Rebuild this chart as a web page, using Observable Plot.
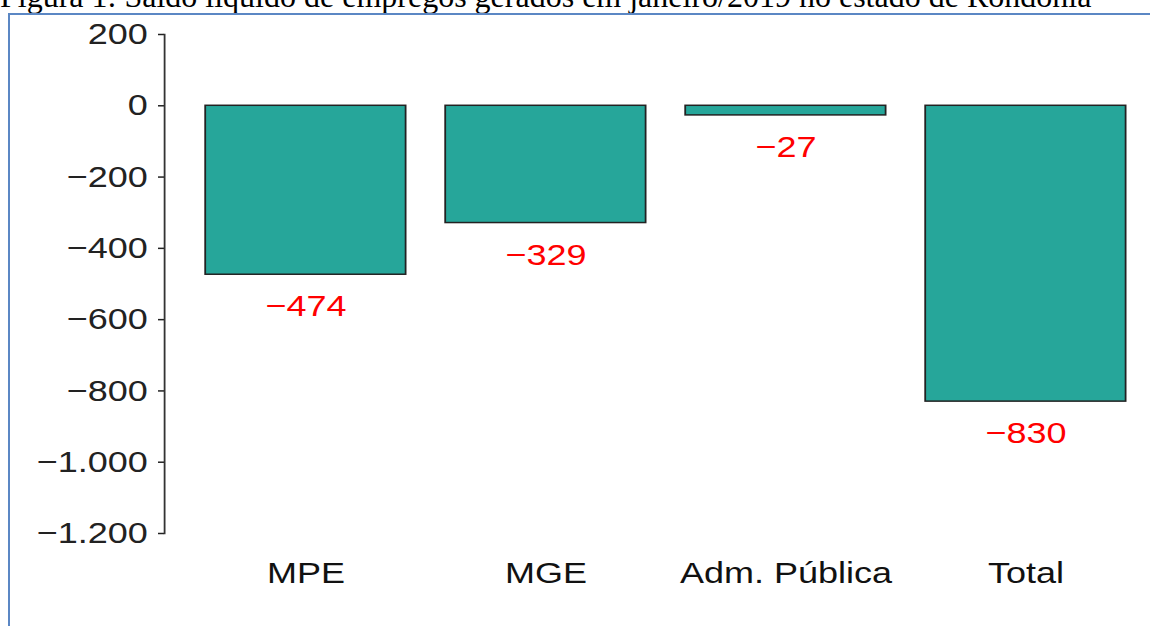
<!DOCTYPE html>
<html>
<head>
<meta charset="utf-8">
<script src="https://cdn.jsdelivr.net/npm/d3@7"></script>
<script src="https://cdn.jsdelivr.net/npm/@observablehq/plot@0.6"></script>
<style>
  html, body { margin: 0; padding: 0; background: #fff; width: 1150px; height: 626px; overflow: hidden; position: relative; }
  #title { position: absolute; left: 0; top: -20px; font-family: "Liberation Serif", "Times New Roman", serif; font-size: 32px; line-height: 32px; color: #000; white-space: nowrap; }
  #frame { position: absolute; left: 8px; top: 13px; width: 1200px; height: 700px; border: 2px solid #5B87C4; box-sizing: border-box; }
  #chart { position: absolute; left: 0; top: 0; }
</style>
</head>
<body>
<div id="title">Figura 1: Saldo líquido de empregos gerados em janeiro/2019 no estado de Rondônia</div>
<div id="frame"></div>
<div id="chart"></div>
<script>
const categories = ["MPE", "MGE", "Adm. Pública", "Total"];
const values = [-474, -329, -27, -830];
const yTicks = [200, 0, -200, -400, -600, -800, -1000, -1200];

const data = categories.map((c, i) => ({cat: c, value: values[i]}));
const fmt = d3.formatLocale({decimal: ",", thousands: ".", grouping: [3], currency: ["R$", ""], minus: "\u2212"}).format(",d");

const S = 1.2; // horizontal stretch of the original picture
const W = 1150 / S;
const H = 626;

const chart = Plot.plot({
  width: W,
  height: H,
  marginTop: 34,
  marginBottom: 93,
  marginLeft: 164 / S,
  marginRight: 0,
  x: {domain: categories, range: [164 / S, 1166 / S], paddingInner: 0.165, paddingOuter: 0.162},
  y: {domain: [-1200, 200]},
  style: {fontFamily: "'Liberation Sans', Arial, sans-serif", background: "transparent", overflow: "visible"},
  marks: [
    Plot.barY(data, {x: "cat", y: "value", fill: "#26A69A", stroke: "#222", strokeWidth: 1.5}),
    Plot.axisY({ticks: yTicks, tickFormat: fmt, tickSize: 5, tickPadding: 9, fontSize: 30, color: "#222", strokeWidth: 1.5, label: null}),
    Plot.frame({anchor: "left", stroke: "#333", strokeWidth: 1.5}),
    Plot.axisX({tickSize: 0, tickPadding: 28, fontSize: 30, color: "#111", label: null}),
    Plot.text(data, {x: "cat", y: "value", text: d => fmt(d.value), dy: 32, fill: "#FF0000", fontSize: 30, lineAnchor: "middle"})
  ]
});

chart.setAttribute("viewBox", `0 0 ${W} ${H}`);
chart.setAttribute("width", 1150);
chart.setAttribute("height", H);
chart.setAttribute("preserveAspectRatio", "none");
chart.style.width = "1150px";
chart.style.height = H + "px";
chart.style.maxWidth = "none";
document.getElementById("chart").appendChild(chart);
</script>
</body>
</html>
